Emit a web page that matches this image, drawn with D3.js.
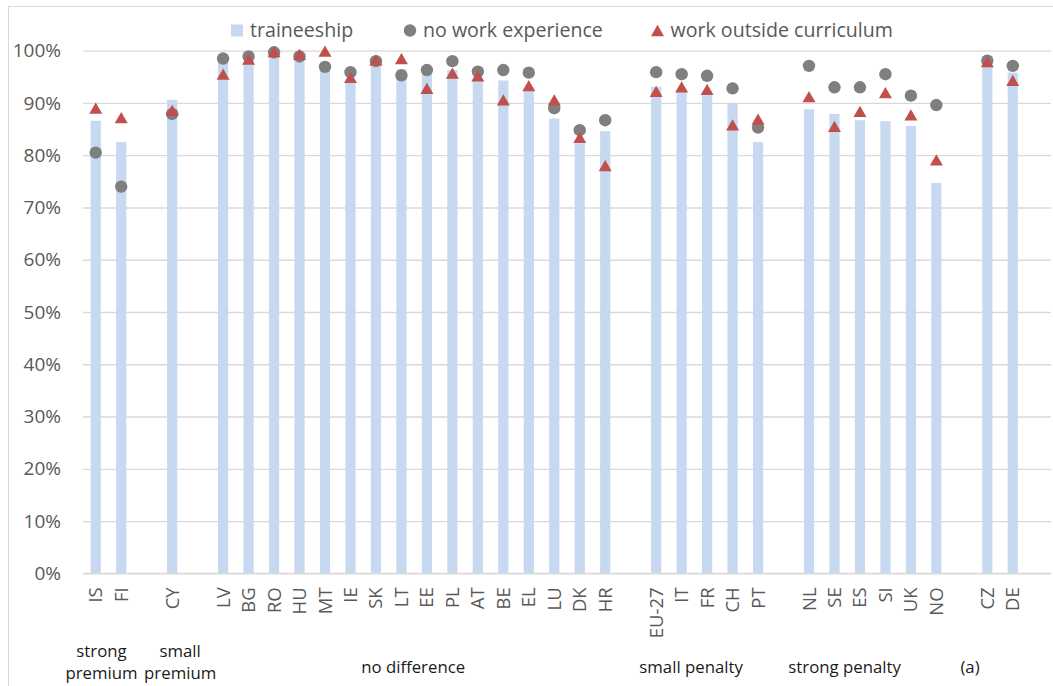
<!DOCTYPE html>
<html>
<head>
<meta charset="utf-8">
<script src="https://cdn.jsdelivr.net/npm/d3@7"></script>
<style>
  html, body { margin: 0; padding: 0; background: #fff; }
  svg { display: block; font-family: "Open Sans", sans-serif; }
</style>
</head>
<body>
<svg id="chart" width="1053" height="686"></svg>
<script>
// ---- data ----
const categories = ["IS","FI","CY","LV","BG","RO","HU","MT","IE","SK","LT","EE","PL","AT","BE","EL","LU","DK","HR","EU-27","IT","FR","CH","PT","NL","SE","ES","SI","UK","NO","CZ","DE"];
const traineeship = [86.6,82.5,90.6,99.3,98.0,99.5,98.7,96.4,94.1,97.0,96.4,95.5,96.3,94.7,94.3,92.5,87.0,82.3,84.6,93.1,92.2,91.5,89.9,82.5,88.8,87.9,86.7,86.5,85.6,74.7,96.9,95.8];
const noWorkExperience = [80.5,74.0,87.9,98.5,98.9,99.7,98.9,96.9,95.9,98.0,95.3,96.3,98.0,96.0,96.3,95.8,89.0,84.8,86.7,95.9,95.5,95.2,92.8,85.3,97.1,93.0,93.0,95.5,91.4,89.6,98.1,97.1];
const workOutsideCurriculum = [89.0,87.2,88.6,95.5,98.4,99.8,99.3,99.9,94.9,98.2,98.5,92.8,95.7,95.2,90.6,93.3,90.6,83.4,78.0,92.2,93.1,92.6,85.8,86.9,91.2,85.5,88.4,92.0,87.7,79.1,97.9,94.3];
const groupLabels = [["strong","premium"],["small","premium"],["no difference"],["small penalty"],["strong penalty"],["(a)"]];
const groupSizes = [2,1,16,5,6,2];
const yTicks = [0,10,20,30,40,50,60,70,80,90,100];
const seriesNames = ["traineeship","no work experience","work outside curriculum"];

// ---- layout / style ----
const W = 1053, H = 686;
const plot = {left: 83, right: 1051, top: 50.7, bottom: 573.3};
const colors = {bar: "#c6d9f0", circle: "#7f7f7f", tri: "#c0504d", grid: "#d9d9d9", text: "#595959", group: "#1a1a1a"};
const groupLabelShift = [-7, 8, -1, -16, -28, -30];

const svg = d3.select("#chart");

// frame
svg.append("rect").attr("x", 8.5).attr("y", 6.5).attr("width", 1100).attr("height", 800)
  .attr("fill", "none").attr("stroke", "#d9d9d9").attr("stroke-width", 1);

// slot domain: categories with a gap slot after each group
const slots = [];
const groupMembers = [];
let idx = 0;
groupSizes.forEach((n, g) => {
  const mem = categories.slice(idx, idx + n);
  groupMembers.push(mem);
  mem.forEach(c => slots.push(c));
  slots.push("__gap" + g);
  idx += n;
});

const x = d3.scaleBand().domain(slots).range([plot.left, plot.right]).padding(0);
const y = d3.scaleLinear().domain([0, 100]).range([plot.bottom, plot.top]);
const bw = x.bandwidth() * 0.4;
const cx = c => x(c) + x.bandwidth() / 2;

// gridlines
const yAxis = d3.axisLeft(y).tickValues(yTicks).tickFormat(d => d + "%").tickSize(-(plot.right - plot.left)).tickPadding(22);
const ga = svg.append("g").attr("transform", `translate(${plot.left},0)`).call(yAxis);
ga.select(".domain").remove();
ga.selectAll(".tick line").attr("stroke", colors.grid).attr("stroke-width", 1.3);
ga.selectAll(".tick text").attr("fill", colors.text).attr("font-size", 19).attr("font-family", "Open Sans, sans-serif");

// bars
const rows = categories.map((c, i) => ({c, t: traineeship[i], n: noWorkExperience[i], w: workOutsideCurriculum[i]}));
svg.append("g").selectAll("rect").data(rows).join("rect")
  .attr("x", d => cx(d.c) - bw / 2).attr("width", bw)
  .attr("y", d => y(d.t)).attr("height", d => y(0) - y(d.t))
  .attr("fill", colors.bar);

// x axis line
svg.append("line").attr("x1", plot.left).attr("x2", plot.right).attr("y1", y(0)).attr("y2", y(0))
  .attr("stroke", colors.grid).attr("stroke-width", 1.3);

// circles
const circleSym = d3.symbol().type(d3.symbolCircle).size(Math.PI * 6.2 * 6.2);
svg.append("g").selectAll("path").data(rows).join("path")
  .attr("d", circleSym).attr("transform", d => `translate(${cx(d.c)},${y(d.n)})`)
  .attr("fill", colors.circle);

// triangles (centred on bounding box like the source)
const triSize = 13 * 13 * Math.sqrt(3) / 4;
const triH = 13 * Math.sqrt(3) / 2;
const triSym = d3.symbol().type(d3.symbolTriangle).size(triSize);
svg.append("g").selectAll("path").data(rows).join("path")
  .attr("d", triSym).attr("transform", d => `translate(${cx(d.c)},${y(d.w) + triH / 6})`)
  .attr("fill", colors.tri);

// x tick labels (rotated)
const xl = svg.append("g");
categories.forEach(c => {
  xl.append("text")
    .attr("transform", `translate(${cx(c) + 6.5},${plot.bottom + 14}) rotate(-90)`)
    .attr("text-anchor", "end")
    .attr("font-size", 18.5).attr("fill", colors.text)
    .text(c);
});

// group labels
groupLabels.forEach((lines, g) => {
  const mem = groupMembers[g];
  const center = (cx(mem[0]) + cx(mem[mem.length - 1])) / 2 + groupLabelShift[g];
  const t = svg.append("text").attr("text-anchor", "middle").attr("font-size", 16.8).attr("fill", colors.group);
  if (lines.length === 2) {
    t.append("tspan").attr("x", center).attr("y", 657).text(lines[0]);
    t.append("tspan").attr("x", center).attr("y", 679).text(lines[1]);
  } else {
    t.append("tspan").attr("x", center).attr("y", 673).text(lines[0]);
  }
});

// legend
const legendX = [237, 410, 657.5];
const lg = svg.append("g");
seriesNames.forEach((name, i) => {
  const g = lg.append("g").attr("transform", `translate(${legendX[i]},30.5)`);
  if (i === 0) g.append("rect").attr("x", -6).attr("y", -6).attr("width", 12).attr("height", 12).attr("fill", colors.bar);
  if (i === 1) g.append("path").attr("d", circleSym()).attr("fill", colors.circle);
  if (i === 2) g.append("path").attr("d", triSym()).attr("transform", `translate(0,${triH / 6})`).attr("fill", colors.tri);
  g.append("text").attr("x", 13).attr("y", 6.5).attr("font-size", 19.6).attr("fill", colors.text).text(name);
});
</script>
</body>
</html>
